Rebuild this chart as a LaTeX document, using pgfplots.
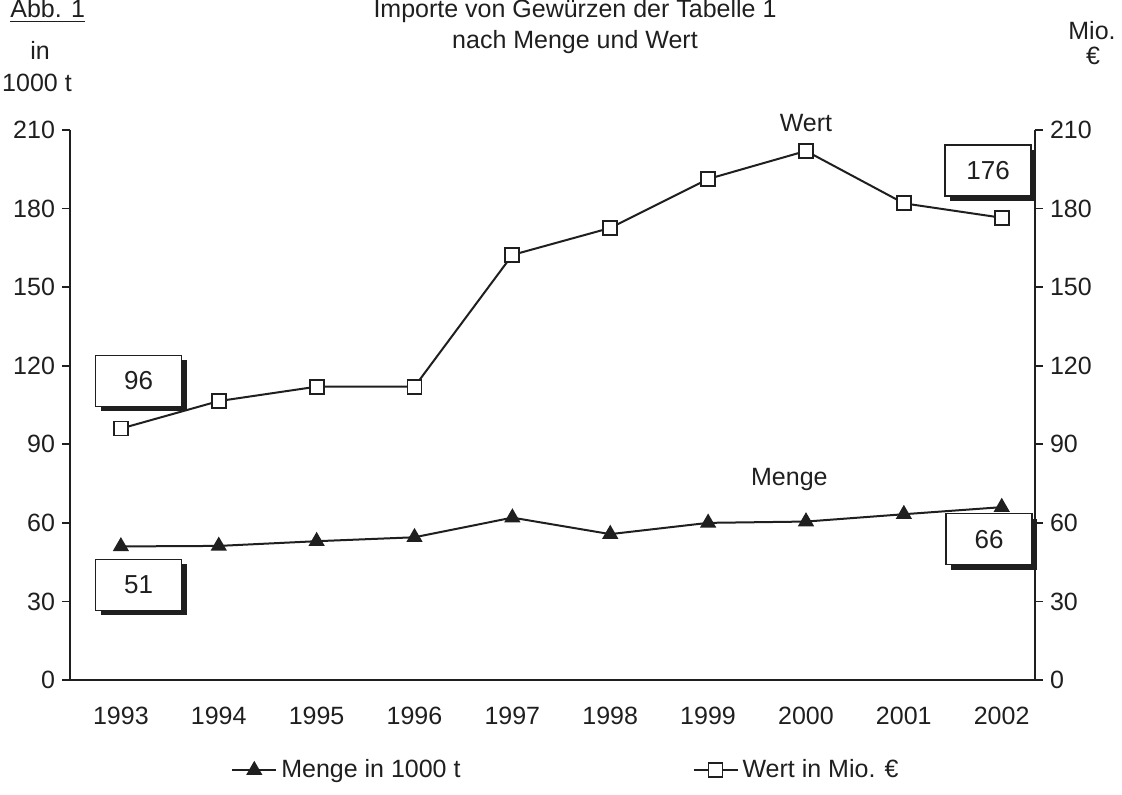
\documentclass[border=0pt]{standalone}
\usepackage{fontspec}
\setmainfont{Liberation Sans}
\usepackage{pgfplots}
\pgfplotsset{compat=1.18}
\usetikzlibrary{shadows}
\definecolor{ink}{gray}{0.12}
\tikzset{
  valbox/.style={draw=ink, fill=white, line width=0.8pt, minimum width=43pt, minimum height=25.5pt, inner sep=0pt,
    font=\fontsize{13}{15.6}\selectfont,
    drop shadow={shadow xshift=2.5pt, shadow yshift=-2.5pt, fill=ink, opacity=1}},
}
\begin{document}
\begin{tikzpicture}[font=\fontsize{12.5}{15}\selectfont, text=ink]
\useasboundingbox (-35pt,-57pt) rectangle (526pt,340pt);
\begin{scope}
\clip (-35pt,-57pt) rectangle (526pt,340pt);
\pgfplotsset{
  myaxis/.style={
    scale only axis, width=482.5pt, height=275pt,
    at={(0,0)}, anchor=south west,
    xmin=1992.48, xmax=2002.34, ymin=0, ymax=210,
    ytick={0,30,...,210},
    tick align=outside, major tick length=4pt,
    axis line style={line width=0.8pt, draw=ink},
    tick style={line width=0.8pt, draw=ink},
    /pgf/number format/assume math mode=true,
    clip=false,
    ticklabel style={font=\fontsize{12.5}{15}\selectfont, text=ink},
  },
  mengestyle/.style={ink, line width=1pt, mark=triangle*, mark size=3.7pt, mark options={fill=ink, solid}},
  wertstyle/.style={ink, line width=1pt, mark=square*, mark size=3.5pt, mark options={fill=white, solid, line width=0.9pt}},
}
\begin{axis}[myaxis, axis x line*=bottom, axis y line*=left,
  xtick={1993,...,2002}, x tick style={draw=none},
  xticklabel style={/pgf/number format/1000 sep={}, yshift=-6pt}]
\addplot[mengestyle] coordinates {
(1993,51) (1994,51.2) (1995,53) (1996,54.5) (1997,62)
(1998,55.7) (1999,60) (2000,60.5) (2001,63.3) (2002,66)};
\end{axis}
\begin{axis}[myaxis, axis x line=none, axis y line*=right,
  legend style={at={(0.515,-0.164)}, anchor=center, draw=none, fill=none,
    font=\fontsize{12.5}{15}\selectfont, legend columns=2,
    /tikz/every even column/.append style={column sep=114pt}},
  legend image code/.code={\draw[mark repeat=2, mark phase=2] plot coordinates {(0pt,0pt) (11pt,0pt) (22pt,0pt)};}]
\addlegendimage{mengestyle}
\addlegendentry{Menge in 1000 t}
\addplot[wertstyle] coordinates {
(1993,96) (1994,106.5) (1995,112) (1996,112) (1997,162.3)
(1998,172.6) (1999,191.3) (2000,202) (2001,182) (2002,176.5)};
\addlegendentry{Wert in Mio. €}
\node at (axis cs:2000,212.7) {Wert};
\node at (axis cs:1999.83,76.4) {Menge};
\node[valbox] at (axis cs:1993.18,114.2) {96};
\node[valbox] at (axis cs:1993.18,36.3) {51};
\node[valbox] at (axis cs:2001.86,194.5) {176};
\node[valbox] at (axis cs:2001.87,53.8) {66};
\end{axis}
\node[anchor=base] at (252.5pt,331pt) {Importe von Gewürzen der Tabelle 1};
\node[anchor=base] at (252.5pt,315.5pt) {nach Menge und Wert};
\node[anchor=base west, inner sep=0pt] at (-30pt,331pt) {\underline{Abb. 1}};
\node at (-15pt,315pt) {in};
\node at (-16.5pt,298.5pt) {1000 t};
\node at (511pt,324.5pt) {Mio.};
\node at (511.5pt,312pt) {€};
\end{scope}
\end{tikzpicture}
\end{document}
